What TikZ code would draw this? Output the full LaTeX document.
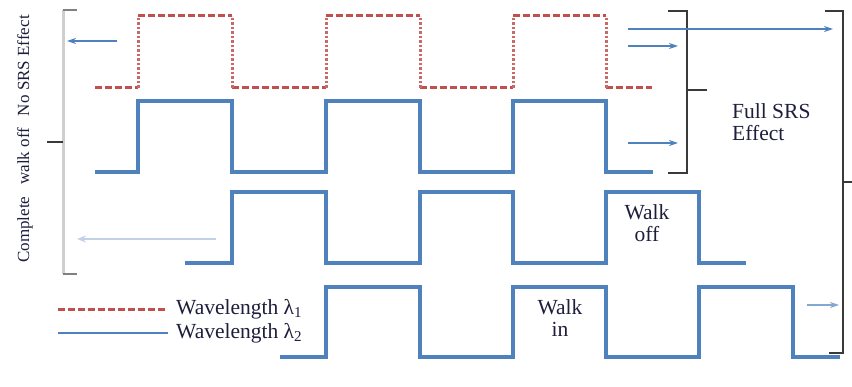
\documentclass[tikz,border=0pt]{standalone}
\usepackage{fontspec}
\setmainfont{Liberation Serif}
\usetikzlibrary{arrows.meta}
\definecolor{wblue}{HTML}{4F81BD}
\definecolor{wred}{HTML}{C0504D}
\definecolor{lblue}{HTML}{C2D1E8}
\definecolor{lgray}{HTML}{CFCFCF}
\definecolor{dgray}{HTML}{3A3A3A}
\definecolor{txt}{HTML}{1E1E3C}
\begin{document}
\begin{tikzpicture}[x=1pt,y=-1pt,
  bluewave/.style={draw=wblue, line width=3.5pt, line join=miter},
  redh/.style={draw=wred, line width=3pt, dash pattern=on 7pt off 3pt},
  redv/.style={draw=wred!85, line width=3pt, dash pattern=on 2.5pt off 2pt},
  brk/.style={draw=dgray, line width=1.6pt},
  arr/.style={draw=wblue, line width=1.2pt, -{Stealth[length=9pt,width=6pt]}},
  larr/.style={draw=lblue, line width=2pt, -{Stealth[length=9pt,width=7pt]}},
  lbl/.style={text=txt, font=\fontsize{21.5}{22}\selectfont, inner sep=0pt}]
\useasboundingbox (0,0) rectangle (852,387);
% row 1 (red dashed)
\foreach \a/\b in {95/138,232/326,420/513,606/652}
  \draw[redh] (\a,88) -- (\b,88);
\foreach \a/\b in {138/232,326/420,513/606}
  \draw[redh] (\a,16) -- (\b,16);
\foreach \x in {138,232,326,420,513,606}
  \draw[redv] (\x,88) -- (\x,16);
% row 2
\draw[bluewave] (95,172) -- (138,172) -- (138,101) -- (232,101) -- (232,172) -- (326,172) -- (326,101) -- (420,101) -- (420,172) -- (513,172) -- (513,101) -- (606,101) -- (606,172) -- (653,172);
% row 3
\draw[bluewave] (185,263) -- (232,263) -- (232,192) -- (326,192) -- (326,263) -- (420,263) -- (420,192) -- (513,192) -- (513,263) -- (606,263) -- (606,192) -- (699,192) -- (699,263) -- (746,263);
% row 4
\draw[bluewave] (280,357) -- (326,357) -- (326,287) -- (420,287) -- (420,357) -- (513,357) -- (513,287) -- (606,287) -- (606,357) -- (699,357) -- (699,287) -- (793,287) -- (793,357) -- (840,357);
% left bracket
\draw[draw=lgray, line width=3pt] (63,10) -- (63,274);
\draw[draw=gray, line width=1.2pt] (63,10) -- (77,10);
\draw[draw=gray, line width=1.2pt] (63,274) -- (77,274);
\draw[brk] (63,142) -- (47,142);
% right brackets
\draw[brk] (668,11) -- (687,11) -- (687,173) -- (668,173);
\draw[brk] (687,90) -- (707,90);
\draw[brk] (825,11) -- (843,11) -- (843,353) -- (829,353);
\draw[brk] (843,182) -- (852,182);
% arrows
\coordinate (a1s) at (117,41); \coordinate (a1e) at (67,41);
\coordinate (a2s) at (216,239); \coordinate (a2e) at (77,239);
\coordinate (a3s) at (628,29); \coordinate (a3e) at (833,29);
\coordinate (a4s) at (628,46); \coordinate (a4e) at (678,46);
\coordinate (a5s) at (628,143); \coordinate (a5e) at (678,143);
\coordinate (a6s) at (807,305); \coordinate (a6e) at (839,305);
\draw[arr] (a1s) -- (a1e);
\draw[larr] (a2s) -- (a2e);
\draw[arr] (a3s) -- (a3e);
\draw[arr] (a4s) -- (a4e);
\draw[arr] (a5s) -- (a5e);
\draw[arr, draw=wblue!70] (a6s) -- (a6e);
% texts
\node[lbl, rotate=90, font=\fontsize{17}{19}\selectfont] (side) at (25,139) {Complete\hspace{0.7em}walk off\hspace{0.7em}No SRS Effect};
\node[lbl, align=left, anchor=north west] (full) at (732,103) {Full SRS\\Effect};
\node[lbl, align=center] (woff) at (647,223) {Walk\\off};
\node[lbl, align=center] (win) at (560,318) {Walk\\in};
% legend
\coordinate (l1a) at (58,310); \coordinate (l1b) at (168,310);
\coordinate (l2a) at (58,333); \coordinate (l2b) at (168,333);
\draw[redh] (l1a) -- (l1b);
\draw[draw=wblue, line width=2.5pt] (l2a) -- (l2b);
\node[lbl, anchor=west] (leg1) at (176,309) {Wavelength λ\textsubscript{1}};
\node[lbl, anchor=west] (leg2) at (176,333) {Wavelength λ\textsubscript{2}};
\end{tikzpicture}
\end{document}
